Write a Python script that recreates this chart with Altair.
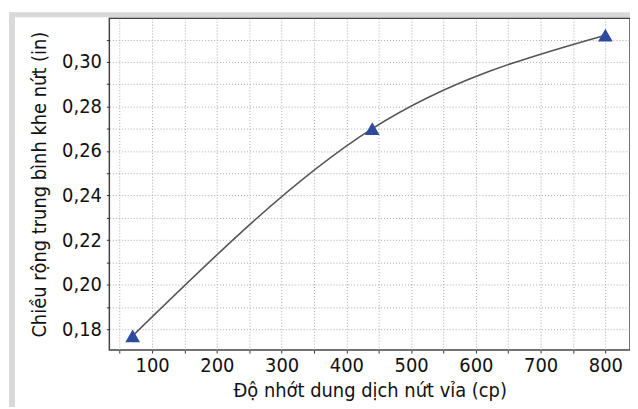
import altair as alt
import pandas as pd

viscosity = [70, 440, 800]
width_in = [0.177, 0.270, 0.312]
x_ticks = [50, 100, 150, 200, 250, 300, 350, 400, 450, 500, 550, 600, 650, 700, 750, 800]
y_ticks = [0.18, 0.19, 0.20, 0.21, 0.22, 0.23, 0.24, 0.25, 0.26, 0.27, 0.28, 0.29, 0.30, 0.31]

df = pd.DataFrame({"x": viscosity, "y": width_in})
one = pd.DataFrame({"a": [0]})

FONT = "'DejaVu Sans Condensed', 'Liberation Sans Narrow', 'Roboto', sans-serif"
W, H = 524, 334

xs = alt.Scale(domain=[34, 838], nice=False, zero=False)
ys = alt.Scale(domain=[0.1706, 0.3196], nice=False, zero=False)

xaxis = alt.Axis(
    values=x_ticks, tickCount=100,
    labelExpr="datum.value % 100 == 0 ? format(datum.value, 'd') : ''",
    labelOverlap=False,
    grid=True, gridColor="#a8a8a8", gridDash=[1, 2], gridWidth=1,
    tickSize=3, tickColor="#333", domain=False,
    labelFont=FONT, labelFontSize=20, labelColor="#111", labelPadding=3,
    title="Độ nhớt dung dịch nứt vỉa (cp)",
    titleFont=FONT, titleFontSize=20, titleFontWeight="normal", titleColor="#111",
    titlePadding=5,
)
yaxis = alt.Axis(
    values=y_ticks, tickCount=100,
    labelExpr="round(datum.value*100) % 2 == 0 ? replace(format(datum.value, '.2f'), '.', ',') : ''",
    labelOverlap=False,
    grid=True, gridColor="#a8a8a8", gridDash=[1, 2], gridWidth=1,
    tickSize=3, tickColor="#333", domain=False,
    labelFont=FONT, labelFontSize=20, labelColor="#111", labelPadding=5,
    title="Chiều rộng trung bình khe nứt (in)",
    titleFont=FONT, titleFontSize=20, titleFontWeight="normal", titleColor="#111",
    titlePadding=12,
)

base = alt.Chart(df)
line = base.mark_line(color="#555555", strokeWidth=1.6, interpolate="natural").encode(
    x=alt.X("x:Q", scale=xs, axis=xaxis),
    y=alt.Y("y:Q", scale=ys, axis=yaxis),
)
pts = base.mark_point(shape="triangle-up", filled=True, size=220, color="#2e4a9e", opacity=1).encode(
    x=alt.X("x:Q", scale=xs),
    y=alt.Y("y:Q", scale=ys),
)
top_band = alt.Chart(one).mark_rect(color="#d9d9d9").encode(
    x=alt.value(-101), x2=alt.value(W + 10), y=alt.value(-6), y2=alt.value(-1)
)
left_band = alt.Chart(one).mark_rect(color="#d9d9d9").encode(
    x=alt.value(-101), x2=alt.value(-95), y=alt.value(-6), y2=alt.value(H + 70)
)

chart = alt.layer(top_band, left_band, line, pts).properties(
    width=W, height=H,
    autosize=alt.AutoSizeParams(type="none"),
    padding={"left": 102, "top": 9, "right": 0, "bottom": 56},
    background="white",
).configure_view(stroke="#444444", strokeWidth=1.5)

chart.save("out.html", embed_options={"renderer": "svg", "actions": False})
